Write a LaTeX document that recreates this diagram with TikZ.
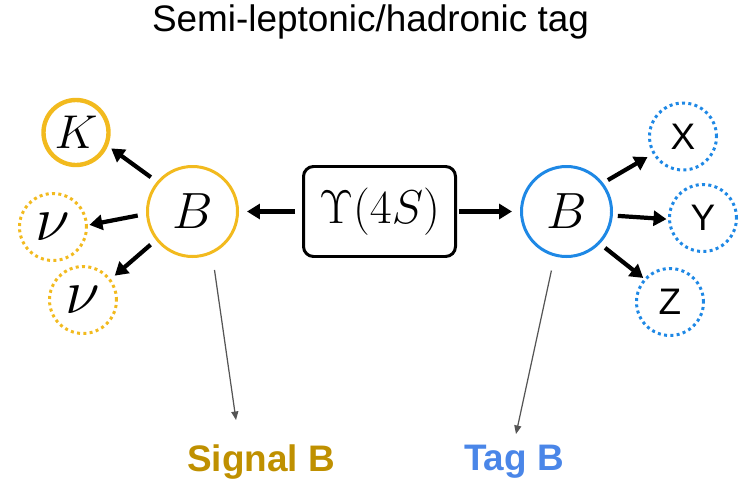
\documentclass[tikz,border=0pt]{standalone}
\usepackage{fix-cm}
\usepackage[no-math]{fontspec}
\newfontfamily\arialfont{Liberation Sans}
\usetikzlibrary{arrows.meta}

\definecolor{amarillo}{RGB}{242,186,30}
\definecolor{azul}{RGB}{30,136,229}
\definecolor{oro}{RGB}{191,144,0}
\definecolor{celeste}{RGB}{74,134,232}
\definecolor{gris}{RGB}{85,85,85}

\tikzstyle{senal}= [circle,draw=amarillo,line width=1.7pt,minimum size=1.80cm,inner sep=0pt,font=\fontsize{29}{30}\selectfont]
\tikzstyle{etiqueta}= [circle,draw=azul,line width=1.7pt,minimum size=1.80cm,inner sep=0pt,font=\fontsize{29}{30}\selectfont]
\tikzstyle{kaon}= [circle,draw=amarillo,line width=2.5pt,minimum size=1.30cm,inner sep=0pt,font=\fontsize{27}{30}\selectfont]
\tikzstyle{neutrino}= [circle,draw=amarillo,line width=1.7pt,dash pattern=on 1.7pt off 1.9pt,minimum size=1.34cm,inner sep=0pt,font=\fontsize{36}{38}\selectfont]
\tikzstyle{producto}= [circle,draw=azul,line width=1.7pt,dash pattern=on 1.7pt off 1.9pt,minimum size=1.34cm,inner sep=0pt,font=\arialfont\fontsize{21}{24}\selectfont]
\tikzstyle{resonancia}= [rectangle,draw,black,line width=1.7pt,rounded corners=0.2cm,minimum width=3.04cm,minimum height=1.80cm,font=\fontsize{27}{29}\selectfont]
\tikzstyle{flecha}= [black,line width=2.4pt,-{Triangle[length=0.26cm,width=0.3cm]}]
\tikzstyle{indicador}= [gris,line width=0.7pt,-{Triangle[length=0.17cm,width=0.14cm]}]

\begin{document}
\begin{tikzpicture}
		\useasboundingbox (0,0) rectangle (14.82,9.66);

		\node (titulo) at (7.41,9.22) {\arialfont\fontsize{21}{24}\selectfont Semi-leptonic/hadronic tag};

		\node (ups) at (7.59,5.43) [resonancia] {$\Upsilon(4S)$};

		% lado de la senal
		\node (bs) at (3.85,5.43) [senal] {$B$};
		\node (k) at (1.52,7.01) [kaon] {$K$};
		\node (nu1) at (1.06,5.12) [neutrino] {$\nu$};
		\node (nu2) at (1.66,3.66) [neutrino] {$\nu$};

		% lado del tag
		\node (bt) at (11.33,5.43) [etiqueta] {$B$};
		\node (x) at (13.66,6.93) [producto] {X};
		\node (y) at (14.06,5.30) [producto] {Y};
		\node (z) at (13.40,3.62) [producto] {Z};

		\node (lsenal) at (5.22,0.42) {\arialfont\bfseries\fontsize{21}{24}\selectfont\color{oro}{Signal B}};
		\node (ltag) at (10.28,0.42) {\arialfont\bfseries\fontsize{21}{24}\selectfont\color{celeste}{Tag B}};
		\coordinate (fsenal) at (4.72,1.26);
		\coordinate (ftag) at (10.32,0.98);

		\path[flecha,shorten <=0.14cm,shorten >=0.16cm] (ups) edge[] (bs);
		\path[flecha,shorten <=0.04cm,shorten >=0.16cm] (ups) edge[] (bt);

		\path[flecha,shorten <=0.15cm,shorten >=0.08cm] (bs.140) edge[] (k.-23);
		\path[flecha,shorten <=0.17cm,shorten >=0.03cm] (bs.183) edge[] (nu1.3);
		\path[flecha,shorten <=0.14cm,shorten >=0.10cm] (bs.218) edge[] (nu2.37);

		\path[flecha,shorten <=0.11cm,shorten >=0.12cm] (bt.38) edge[] (x.210);
		\path[flecha,shorten <=0.10cm,shorten >=0.03cm] (bt.-5) edge[] (y.182);
		\path[flecha,shorten <=0.13cm,shorten >=0.02cm] (bt.-44) edge[] (z.138);

		\path[indicador,shorten <=0.33cm] (bs.-65) edge[] (fsenal);
		\path[indicador,shorten <=0.29cm] (bt.-105) edge[] (ftag);

	\end{tikzpicture}
\end{document}
